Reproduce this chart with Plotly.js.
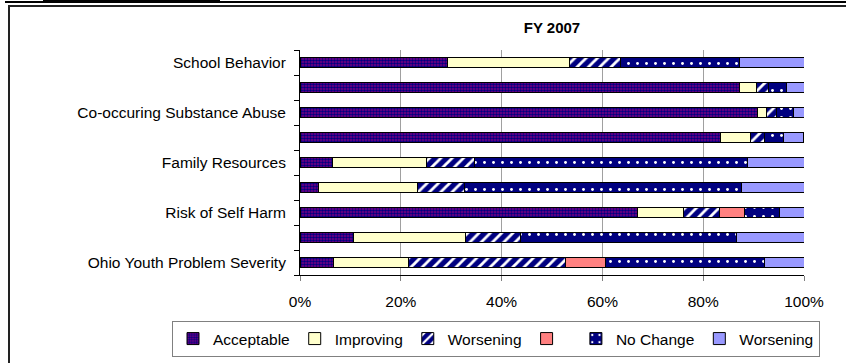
<!DOCTYPE html>
<html>
<head>
<meta charset="utf-8">
<script src="https://cdn.plot.ly/plotly-3.0.1.min.js"></script>
<style>
  html, body { margin: 0; padding: 0; background: #ffffff; }
  #wrap { position: relative; width: 846px; height: 363px; overflow: hidden; }
  #chart { position: absolute; left: 0; top: 0; width: 846px; height: 363px; }
  .ln { position: absolute; background: #000000; }
</style>
</head>
<body>
<div id="wrap">
  <div id="chart"></div>
  <div class="ln" style="left:5px; top:1px; width:841px; height:2px;"></div>
  <div class="ln" style="left:43px; top:0px; width:177px; height:3px;"></div>
  <div class="ln" style="left:8px; top:5px; width:838px; height:2px; background:#222;"></div>
  <div class="ln" style="left:8px; top:5px; width:2px; height:358px; background:#222;"></div>
</div>
<script>
// Categories, top to bottom (labels not shown in the chart are left blank)
const categories = [
  "School Behavior",
  "",
  "Co-occuring Substance Abuse",
  "",
  "Family Resources",
  "",
  "Risk of Self Harm",
  "",
  "Ohio Youth Problem Severity"
];

const seriesNames = ["Acceptable", "Improving", "Worsening", " ", "No Change", "Worsening"];

// Percent values per category (top to bottom)
const acceptable  = [29.2, 87.3, 90.8, 83.5,  6.5,  3.6, 67.0, 10.7,  6.6];
const improving   = [24.2,  3.3,  1.7,  5.9, 18.5, 19.7,  9.1, 22.2, 14.9];
const worseningA  = [10.1,  2.3,  2.1,  2.8,  9.7,  9.3,  7.1, 10.8, 31.1];
const unlabeled   = [ 0.0,  0.0,  0.0,  0.0,  0.0,  0.0,  4.9,  0.0,  8.1];
const noChange    = [23.8,  3.7,  3.3,  3.7, 54.1, 55.0,  7.0, 42.9, 31.4];
const worseningB  = [12.7,  3.4,  2.1,  4.0, 11.2, 12.4,  4.9, 13.4,  7.9];

const xTickVals = [0, 20, 40, 60, 80, 100];
const chartTitle = "FY 2007";

const seriesValues = [acceptable, improving, worseningA, unlabeled, noChange, worseningB];
const styles = [
  {color: "#800080", pattern: {shape: ".", bgcolor: "#800080", fgcolor: "#000080", size: 3, solidity: 0.55}},
  {color: "#FFFFCC"},
  {color: "#000080", pattern: {shape: "/", bgcolor: "#000080", fgcolor: "#ffffff", size: 8, solidity: 0.35}},
  {color: "#FF8080"},
  {color: "#000080", pattern: {shape: ".", bgcolor: "#000080", fgcolor: "#ffffff", size: 9, solidity: 0.08}},
  {color: "#9999FF"}
];

const yIdx = categories.map((_, i) => i);

const traces = seriesValues.map((vals, k) => {
  const m = {color: styles[k].color, line: {color: "#000000", width: 1}};
  if (styles[k].pattern) m.pattern = styles[k].pattern;
  return {
    type: "bar",
    orientation: "h",
    name: seriesNames[k],
    x: vals,
    y: yIdx,
    marker: m,
    hoverinfo: "x+name"
  };
});

const FONT = "Liberation Sans, Arial, sans-serif";

const layout = {
  width: 846,
  height: 363,
  margin: {l: 300, r: 42, t: 50, b: 88, autoexpand: false},
  paper_bgcolor: "rgba(0,0,0,0)",
  plot_bgcolor: "rgba(0,0,0,0)",
  font: {family: FONT, size: 15.5, color: "#000000"},
  title: {
    text: "<b>" + chartTitle + "</b>",
    font: {family: FONT, size: 15, color: "#000000"},
    x: 0.5, xref: "paper", xanchor: "center",
    y: 1 - 28 / 363, yref: "container", yanchor: "middle"
  },
  barmode: "stack",
  bargap: 0.6,
  showlegend: true,
  legend: {
    orientation: "h",
    x: (172 - 300) / 504, xanchor: "left",
    y: 1 - (321 - 50) / 225, yanchor: "top",
    bordercolor: "#808080",
    borderwidth: 1,
    bgcolor: "#ffffff",
    font: {family: FONT, size: 15.5, color: "#000000"},
    itemwidth: 30,
    tracegroupgap: 0,
    traceorder: "normal"
  },
  xaxis: {
    range: [0, 100],
    tickmode: "array",
    tickvals: xTickVals,
    ticktext: xTickVals.map(v => v + "%"),
    showgrid: true,
    gridcolor: "#a0a0a0",
    gridwidth: 1,
    zeroline: false,
    showline: true,
    linecolor: "#000000",
    linewidth: 1,
    ticks: "outside",
    ticklen: 5,
    tickcolor: "#808080",
    ticklabelstandoff: 7,
    tickfont: {size: 15.5},
    fixedrange: true
  },
  yaxis: {
    range: [8.5, -0.5],
    tickmode: "array",
    tickvals: yIdx,
    ticktext: categories,
    ticks: "",
    showgrid: false,
    zeroline: false,
    showline: true,
    linecolor: "#000000",
    linewidth: 1,
    ticklabelstandoff: 10,
    tickfont: {size: 15.5},
    minor: {
      tickmode: "linear",
      tick0: 0.5,
      dtick: 1,
      ticks: "outside",
      ticklen: 5,
      tickcolor: "#000000",
      showgrid: false
    },
    fixedrange: true
  }
};

Plotly.newPlot("chart", traces, layout, {displayModeBar: false, staticPlot: true});
</script>
</body>
</html>
